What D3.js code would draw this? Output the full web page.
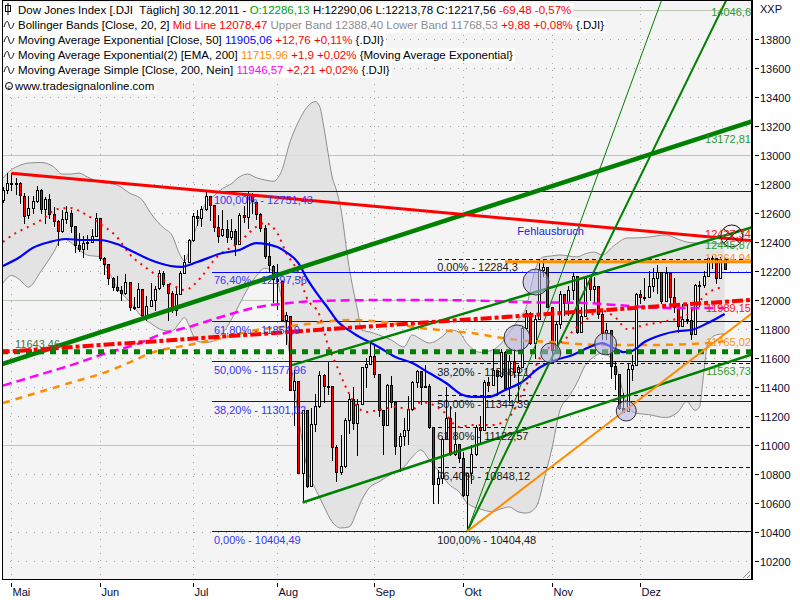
<!DOCTYPE html>
<html><head><meta charset="utf-8">
<script src="https://cdn.jsdelivr.net/npm/d3@7"></script>
<style>
body{margin:0;background:#fff;}
svg{display:block;font-family:"Liberation Sans",Arial,sans-serif;}
text{white-space:pre;}
</style></head><body>
<svg id="c" width="800" height="600"></svg>
<script>
// ---------------- DATA ----------------
// daily candles [open, high, low, close], 28.04.2011 .. 30.12.2011
const ohlc = [
[12690,12780,12675,12763],[12763,12876,12740,12810],[12810,12876,12757,12807],[12806,12840,12730,12807],[12807,12815,12670,12723],
[12722,12740,12530,12584],[12585,12720,12565,12638],[12638,12720,12600,12684],[12684,12790,12680,12760],[12759,12770,12600,12630],
[12630,12710,12530,12695],[12695,12730,12570,12595],[12595,12640,12510,12548],[12547,12550,12380,12479],[12479,12620,12470,12560],
[12560,12650,12530,12605],[12604,12620,12470,12512],[12511,12511,12330,12381],[12381,12460,12340,12356],[12355,12440,12300,12394],
[12394,12450,12350,12402],[12402,12490,12400,12441],[12440,12600,12440,12569],[12569,12570,12280,12290],[12290,12300,12180,12248],
[12248,12250,12110,12151],[12151,12160,12070,12089],[12089,12170,12060,12070],[12070,12100,12000,12048],[12049,12180,12040,12124],
[12124,12124,11930,11951],[11952,12020,11940,11952],[11953,12120,11950,12076],[12075,12076,11880,11897],[11896,12030,11862,11961],
[11962,12120,11960,12004],[12004,12100,11930,12080],[12081,12210,12080,12190],[12189,12200,12100,12109],[12108,12110,11860,12050],
[12050,12060,11920,11934],[11934,12100,11900,12043],[12043,12200,12040,12188],[12188,12310,12188,12261],[12261,12420,12260,12414],
[12414,12600,12410,12582],[12582,12620,12520,12569],[12569,12650,12510,12626],[12626,12753,12620,12719],[12719,12720,12550,12657],
[12655,12656,12480,12505],[12505,12590,12400,12446],[12447,12620,12440,12491],[12491,12550,12400,12437],[12437,12560,12420,12479],
[12479,12490,12310,12385],[12385,12600,12385,12587],[12587,12650,12540,12571],[12571,12751,12500,12724],[12724,12740,12600,12681],
[12680,12680,12560,12592],[12592,12600,12480,12501],[12500,12520,12290,12302],[12302,12400,12200,12240],[12239,12240,11990,12143],
[12143,12250,11940,12132],[12130,12130,11860,11866],[11866,11920,11700,11896],[11890,11890,11380,11383],[11383,11520,11140,11444],
[11444,11444,10809,10809],[10810,11244,10604,11239],[11239,11240,10711,10719],[10719,11254,10719,11143],[11143,11350,11100,11269],
[11269,11510,11260,11482],[11482,11490,11300,11405],[11405,11570,11350,11410],[11409,11410,10900,10990],[10990,11000,10750,10817],
[10817,11070,10800,10854],[10854,11190,10850,11176],[11176,11350,11080,11320],[11320,11400,11110,11149],[11150,11320,10930,11284],
[11284,11540,11284,11539],[11538,11600,11400,11559],[11559,11710,11560,11613],[11613,11700,11470,11493],[11492,11493,11200,11240],
[11240,11245,10940,11139],[11139,11420,11139,11414],[11414,11480,11260,11295],[11295,11296,10940,10992],[10991,11080,10820,11061],
[11061,11190,11000,11105],[11105,11340,11010,11246],[11247,11440,11240,11433],[11433,11520,11400,11509],[11509,11510,11280,11401],
[11401,11550,11400,11408],[11408,11420,11120,11124],[11124,11124,10600,10733],[10733,10830,10600,10771],[10771,11050,10740,11043],
[11044,11400,11040,11190],[11190,11270,10930,10938],[10939,11230,10930,11010],[11010,11010,10880,10913],[10912,10950,10650,10655],
[10655,10809,10404,10808],[10806,11000,10740,10939],[10939,11140,10930,11123],[11123,11200,11020,11103],[11104,11450,11104,11433],
[11433,11470,11370,11416],[11417,11660,11417,11518],[11517,11520,11360,11478],[11478,11660,11470,11644],[11644,11650,11380,11397],
[11397,11620,11300,11577],[11577,11660,11470,11504],[11504,11550,11300,11541],[11541,11820,11540,11808],[11808,11930,11800,11913],
[11913,11920,11700,11706],[11707,11900,11600,11869],[11869,12284,11869,12208],[12208,12280,12170,12231],[12230,12231,11950,11955],
[11955,11955,11570,11657],[11657,11850,11650,11836],[11836,12060,11810,12044],[12044,12044,11900,11983],[11983,12100,11900,12068],
[12068,12190,12010,12170],[12170,12170,11770,11780],[11780,11950,11780,11893],[11894,12170,11890,12153],[12153,12155,12000,12078],
[12078,12160,11980,12096],[12096,12100,11880,11905],[11905,11940,11730,11770],[11770,11840,11730,11796],[11796,11797,11460,11547],
[11547,11580,11390,11493],[11492,11493,11250,11257],[11257,11360,11231,11231],[11232,11560,11232,11523],[11523,11620,11450,11555],
[11555,12050,11555,12045],[12045,12070,11980,12020],[12020,12150,12000,12019],[12019,12200,12019,12097],[12097,12220,12060,12150],
[12150,12240,12050,12196],[12196,12197,11980,11997],[11997,12230,11997,12184],[12184,12185,11970,12021],[12021,12150,11920,11954],
[11954,11960,11780,11823],[11823,11970,11820,11868],[11868,11970,11840,11866],[11866,11940,11735,11766],[11766,12110,11766,12103],
[12103,12130,11960,12107],[12107,12200,12090,12169],[12169,12300,12169,12294],[12294,12302,12220,12291],[12291,12292,12120,12151],
[12151,12300,12150,12287],[12286,12290,12213,12217]
];

const monthLabels = ["Mai","Jun","Jul","Aug","Sep","Okt","Nov","Dez"];
const monthStartBar = [2,23,45,65,88,109,130,151];
const yTickValues = [10200,10400,10600,10800,11000,11200,11400,11600,11800,12000,12200,12400,12600,12800,13000,13200,13400,13600,13800];
const gridValues = [10200,10400,10600,10800,11000,11200,11400,11600,11800,12000,12200,12400,12600,12800,13000,13200,13400,13600,13800,14000];
const majorGrid = [11000,12000,13000,14000];

// Bollinger bands (20,2) read at sample bars
const bbBar   = [0,2,4,6,9,12,14,16,18,20,23,25,27,30,33,35,38,40,42,43,44,45,46,48,50,52,54,56,58,60,62,64,66,68,70,72,74,75,76,77,78,79,80,82,84,85,87,89,92,95,97,99,101,104,106,108,110,113,116,118,120,122,124,126,127,128,130,132,134,136,138,140,142,145,148,150,153,157,160,162,164,165,166,167,169,171];
const bbUpper = [12843,12900,12930,12946,12950,12920,12870,12870,12877,12850,12815,12805,12795,12739,12691,12600,12500,12450,12310,12270,12330,12435,12516,12667,12720,12770,12800,12850,12870,12845,12830,12820,12890,13090,13230,13330,13370,13340,13200,13020,12850,12760,12640,12230,11932,11794,11780,11760,11725,11677,11760,11730,11704,11746,11794,11780,11700,11640,11656,11700,11780,11860,11952,12200,12270,12298,12305,12312,12305,12298,12320,12332,12312,12381,12429,12429,12435,12450,12420,12401,12395,12394,12394,12394,12390,12388];
const bbLower = [12118,12170,12140,12090,12200,12330,12425,12400,12346,12311,12298,12200,12090,11990,11883,11840,11792,11787,11850,11881,11830,11760,11716,11707,11720,11770,11860,11970,12080,12165,12220,12200,12010,11610,11200,10848,10700,10640,10580,10520,10470,10440,10428,10435,10552,10620,10711,10745,10800,10849,10918,10966,10900,10790,10720,10680,10600,10560,10540,10560,10573,10540,10531,10560,10620,10738,10966,11242,11330,11428,11550,11608,11635,11560,11270,11220,11210,11190,11230,11300,11240,11260,11480,11700,11760,11768];
// Bollinger mid line (SMA 20)
const midBar = [0,3,6,9,13,16,19,23,27,30,34,37,41,43,47,50,56,60,62,65,67,70,72,75,77,79,81,84,86,89,93,97,99,104,108,111,116,120,122,125,128,133,136,139,141,145,148,152,156,162,167,170,171];
const midVal = [12401,12463,12505,12553,12629,12636,12601,12526,12436,12318,12222,12160,12091,12070,12160,12277,12401,12505,12532,12463,12332,12187,12015,11897,11691,11553,11415,11263,11228,11242,11263,11242,11297,11242,11125,11138,11138,11194,11297,11470,11635,11725,11815,11884,11932,11884,11800,11829,11849,11897,12049,12084,12078];
// EMA 50
const emaBar = [0,4,7,11,15,19,23,27,31,35,37,42,46,52,56,60,65,67,70,72,75,77,79,83,89,93,97,101,105,109,111,115,119,123,127,131,135,139,142,144,147,149,152,156,160,163,167,171];
const emaVal = [12236,12298,12360,12401,12422,12415,12415,12387,12332,12277,12256,12229,12263,12325,12346,12394,12367,12333,12256,12150,12022,11946,11863,11773,11677,11608,11566,11497,11428,11345,11332,11332,11380,11435,11532,11587,11622,11677,11704,11680,11642,11649,11711,11760,11787,11794,11842,11905];
// EMA 200 (of EMA)
const ema200Bar = [0,8,16,24,30,35,44,52,60,66,72,82,90,99,111,122,130,142,154,167,171];
const ema200Val = [11290,11360,11430,11500,11570,11635,11691,11739,11794,11815,11835,11863,11850,11808,11773,11725,11711,11691,11691,11704,11716];
// SMA 200
const sma200Bar = [0,8,16,24,32,37,44,52,60,66,72,85,100,115,122,138,146,154,162,171];
const sma200Val = [11410,11480,11550,11630,11700,11760,11815,11887,11950,11975,11990,12000,12001,11995,11987,11980,11965,11950,11945,11946];

// drawn tools: two anchor points [bar, value] and drawn bar range
const toolNames = ["greenLong","redDown","chanUp","chanLow","steepThin","steepMid","orangeUp","redDash"];
const toolA = [[0,11560],[2,12876],[68.5,11552],[71,10604.07],[110,10404.49],[110,10404.49],[110,10404.49],[0,11643.46]];
const toolB = [[171,13172.81],[171,12427.34],[171,12445.87],[171,11563.73],[134.4,12346],[171,14046.6],[171,11765.02],[171,11989.15]];
const toolFrom = [-1,2,68.5,71,110,110,110,-1];
const toolTo = [178,178,178,178,160,178,178,178];
const supportLevel = 11643.46;
const resistLevel = 12264.94, resistFrom = 119;

// Fibonacci retracements
const fib1From = 49.5;
const fib1Levels = [12751.43,12197.56,11854.90,11577.96,11301.02,10404.49];
const fib1Labels = ["100,00% - 12751,43","76,40% - 12197,56","61,80% - 11854,9","50,00% - 11577,96","38,20% - 11301,02","0,00% - 10404,49"];
const fib2From = 103;
const fib2Levels = [12284.3,11566.21,11344.39,11122.57,10848.12,10404.48];
const fib2Labels = ["0,00% - 12284,3","38,20% - 11566,21","50,00% - 11344,39","61,80% - 11122,57","76,40% - 10848,12","100,00% - 10404,48"];

// value labels at right edge
const valueLabelText = ["14046,6","13172,81","12427,34","12445,87","12264,94","11989,15","11765,02","11563,73"];
const valueLabelVal = [14046.6,13172.81,12427.34,12445.87,12264.94,11989.15,11765.02,11563.73];
const valueLabelKind = ["g","g","r","g","o","r","o","g"];

// marked spots
const markBar = [126.3,121.8,129.8,142.8,147.7];
const markVal = [12125,11739,11635,11698,11235];
const crossMark = [172.7,12443];
const noteText = "Fehlausbruch", noteBar = 122, noteVal = 12450;

const legendRows = [
 [["Dow Jones Index [.DJI  Täglich] 30.12.2011 - ","k"],["O:12286,13","up"],[" H:12290,06 L:12213,78 C:12217,56 ","k"],["-69,48 -0,57%","r"]],
 [["Bollinger Bands [Close, 20, 2] ","k"],["Mid Line 12078,47","r"],[" Upper Band 12388,40 Lower Band 11768,53","gr"],[" +9,88 +0,08%","r"],[" {.DJI}","k"]],
 [["Moving Average Exponential [Close, 50] ","k"],["11905,06","b"],[" +12,76 +0,11%","r"],[" {.DJI}","k"]],
 [["Moving Average Exponential(2) [EMA, 200] ","k"],["11715,96","o"],[" +1,9 +0,02%","r"],[" {Moving Average Exponential}","k"]],
 [["Moving Average Simple [Close, 200, Nein] ","k"],["11946,57","m"],[" +2,21 +0,02%","r"],[" {.DJI}","k"]],
 [["www.tradesignalonline.com","k"]]
];

// ---------------- DRAWING ----------------
const P = {l:2, t:0, r:752, b:580};
const x = d3.scaleLinear().domain([0,171]).range([3,724.6]);
const y = d3.scaleLinear().domain([10200,13800]).range([561,39.3]);
const pal = {k:"#000",up:"#00a000",r:"#ff0000",gr:"#8c8c8c",b:"#0000ff",o:"#ff8c00",m:"#ff00ff",g:"#2f8f2f"};

const svg = d3.select("#c");
svg.append("defs").append("clipPath").attr("id","pc").append("rect")
  .attr("x",P.l).attr("y",P.t).attr("width",P.r-P.l).attr("height",P.b-P.t);
svg.append("rect").attr("width",800).attr("height",600).attr("fill","#fff");
svg.append("rect").attr("x",P.l).attr("y",P.t).attr("width",P.r-P.l).attr("height",P.b-P.t).attr("fill","#f4f4f4");
const g = svg.append("g").attr("clip-path","url(#pc)");

// grid
const snap = v => Math.round(v)+0.5;
g.selectAll("line.hg").data(gridValues).join("line")
  .attr("x1",P.l).attr("x2",P.r).attr("y1",d=>snap(y(d))).attr("y2",d=>snap(y(d)))
  .attr("stroke",d=>majorGrid.includes(d)?"#b9c9b3":"#a8a8a8")
  .attr("stroke-dasharray",d=>majorGrid.includes(d)?null:"1,7");
g.selectAll("line.vg").data(monthStartBar).join("line")
  .attr("x1",d=>snap(x(d))).attr("x2",d=>snap(x(d))).attr("y1",P.t).attr("y2",P.b)
  .attr("stroke","#a8a8a8").attr("stroke-dasharray","1,6");

// Bollinger band
const bb = bbBar.map((b,i)=>({b,u:bbUpper[i],l:bbLower[i]}));
g.append("path").datum(bb).attr("fill","#e1e1e1").attr("fill-opacity",0.9)
  .attr("d",d3.area().curve(d3.curveMonotoneX).x(d=>x(d.b)).y0(d=>y(d.l)).y1(d=>y(d.u)));
["u","l"].forEach(k=>{
  g.append("path").datum(bb).attr("fill","none").attr("stroke","#8e8e8e").attr("stroke-width",1)
   .attr("d",d3.line().curve(d3.curveMonotoneX).x(d=>x(d.b)).y(d=>y(d[k])));
});

// fib lines
const fg = g.append("g").attr("shape-rendering","crispEdges");
fib1Levels.forEach((v,i)=>{
  fg.append("line").attr("x1",x(fib1From)).attr("x2",P.r).attr("y1",snap(y(v))).attr("y2",snap(y(v)))
   .attr("stroke","#0000ff").attr("stroke-width",1);
});
fib2Levels.forEach((v,i)=>{
  fg.append("line").attr("x1",x(fib2From)).attr("x2",P.r).attr("y1",snap(y(v))).attr("y2",snap(y(v)))
   .attr("stroke","#111").attr("stroke-width",1).attr("stroke-dasharray","4,3");
});

// candles
const cg = g.append("g").attr("shape-rendering","crispEdges");
cg.selectAll("line").data(ohlc).join("line")
  .attr("x1",(d,i)=>Math.round(x(i))+0.5).attr("x2",(d,i)=>Math.round(x(i))+0.5)
  .attr("y1",d=>Math.round(y(d[1]))).attr("y2",d=>Math.round(y(d[2]))+1)
  .attr("stroke","#000");
cg.selectAll("rect").data(ohlc).join("rect")
  .attr("x",(d,i)=>Math.round(x(i))-0.5).attr("width",2)
  .attr("y",d=>Math.round(y(Math.max(d[0],d[3])))+0.5)
  .attr("height",d=>Math.max(1,Math.round(y(Math.min(d[0],d[3])))-Math.round(y(Math.max(d[0],d[3])))))
  .attr("fill",d=>d[3]<d[0]?"#ff0000":"#ffffff").attr("stroke","#000").attr("stroke-width",1);

// moving averages
const mkLine = (bars,vals)=>d3.line().curve(d3.curveMonotoneX).x((d,i)=>x(bars[i])).y(d=>y(d))(vals);
g.append("path").attr("d",mkLine(sma200Bar,sma200Val)).attr("fill","none").attr("stroke","#ff00ff")
  .attr("stroke-width",2.5).attr("stroke-dasharray","9,5");
g.append("path").attr("d",mkLine(ema200Bar,ema200Val)).attr("fill","none").attr("stroke","#ff8c00")
  .attr("stroke-width",2.5).attr("stroke-dasharray","7,6");
g.append("path").attr("d",mkLine(midBar,midVal)).attr("fill","none").attr("stroke","#ff0000")
  .attr("stroke-width",2).attr("stroke-dasharray","2,5");
g.append("path").attr("d",mkLine(emaBar,emaVal)).attr("fill","none").attr("stroke","#0000ff")
  .attr("stroke-width",2.2);

// support / resistance
g.append("line").attr("x1",P.l).attr("x2",P.r).attr("y1",y(supportLevel)).attr("y2",y(supportLevel))
  .attr("stroke","#008000").attr("stroke-width",5).attr("stroke-dasharray","6,6");
g.append("line").attr("x1",x(resistFrom)).attr("x2",P.r).attr("y1",y(resistLevel)).attr("y2",y(resistLevel))
  .attr("stroke","#ff8c00").attr("stroke-width",3);

// trend tools
const toolStyle = {
  greenLong:{c:"#008000",w:4.5}, redDown:{c:"#ff0000",w:3}, chanUp:{c:"#008000",w:2.5},
  chanLow:{c:"#008000",w:2.5}, steepThin:{c:"#008000",w:1}, steepMid:{c:"#008000",w:2},
  orangeUp:{c:"#ff8c00",w:2}, redDash:{c:"#ff0000",w:4,dash:"11,3,4,3"}
};
toolNames.forEach((n,i)=>{
  const [b1,v1]=toolA[i],[b2,v2]=toolB[i];
  const val = b => v1 + (v2-v1)*(b-b1)/(b2-b1);
  const s = toolStyle[n];
  g.append("line").attr("x1",x(toolFrom[i])).attr("y1",y(val(toolFrom[i])))
   .attr("x2",x(toolTo[i])).attr("y2",y(val(toolTo[i])))
   .attr("stroke",s.c).attr("stroke-width",s.w).attr("stroke-dasharray",s.dash||null);
});

// marked ellipses
const markR = [13,13,10,11,10];
markBar.forEach((b,i)=>{
  g.append("circle").attr("cx",x(b)).attr("cy",y(markVal[i])).attr("r",markR[i])
   .attr("fill","#b4b4e6").attr("fill-opacity",0.55).attr("stroke","#333").attr("stroke-width",1);
});
{
  const cx=x(crossMark[0]), cy=y(crossMark[1]);
  g.append("circle").attr("cx",cx).attr("cy",cy).attr("r",11).attr("fill","none").attr("stroke","#111");
  g.append("path").attr("d",`M${cx-8},${cy-7}L${cx+8},${cy+7}M${cx-8},${cy+7}L${cx+8},${cy-7}`).attr("stroke","#111");
}

// fib labels
const tg = svg.append("g").attr("font-size","11px");
fib1Levels.forEach((v,i)=>{
  tg.append("text").attr("x",x(fib1From)+2).attr("y",y(v)+12.5).attr("fill","#3636f5").text(fib1Labels[i]);
});
fib2Levels.forEach((v,i)=>{
  tg.append("text").attr("x",x(fib2From)-0.5).attr("y",y(v)+12.5).attr("fill","#1a1a1a").text(fib2Labels[i]);
});
tg.append("text").attr("x",x(noteBar)-0.5).attr("y",y(noteVal)).attr("fill","#2020ee").text(noteText);
tg.append("text").attr("x",15).attr("y",y(supportLevel)-4).attr("fill","#3d7a3d").text("11643,46");

// value labels at right
const vOff = [12.4,12.5,0,13,0,10,12,12];
valueLabelText.forEach((t,i)=>{
  tg.append("text").attr("x",P.r-1).attr("y",y(valueLabelVal[i])+vOff[i]).attr("text-anchor","end")
   .attr("fill",valueLabelKind[i]==="g"?"#2f9a2f":valueLabelKind[i]==="r"?"#ff1010":"#ff9020").text(t);
});

// frame
svg.append("rect").attr("x",P.l+0.5).attr("y",P.t+0.5).attr("width",P.r-P.l-1).attr("height",P.b-P.t-1)
  .attr("fill","none").attr("stroke","#000").attr("stroke-width",1);
svg.append("line").attr("x1",P.r+0.5).attr("x2",P.r+0.5).attr("y1",0).attr("y2",P.b).attr("stroke","#000");
svg.append("path").attr("d",`M${P.r-2},${P.b-9}L${P.r-9},${P.b-2}M${P.r-2},${P.b-5}L${P.r-5},${P.b-2}`).attr("stroke","#888");

// right axis
const ax = svg.append("g").attr("font-size","11px");
yTickValues.forEach(v=>{
  const yy = snap(y(v));
  ax.append("line").attr("x1",P.r+3).attr("x2",P.r+7).attr("y1",yy).attr("y2",yy).attr("stroke","#000");
  ax.append("text").attr("x",P.r+8).attr("y",yy+4).attr("fill","#0a0a30").text(v);
});
ax.append("text").attr("x",P.r+8).attr("y",13).attr("fill","#0a0a30").text("XXP");

// bottom axis
monthStartBar.forEach((b,i)=>{
  const xx = snap(x(b));
  ax.append("line").attr("x1",xx).attr("x2",xx).attr("y1",P.b+3).attr("y2",P.b+7).attr("stroke","#000");
  ax.append("text").attr("x",xx+1).attr("y",P.b+16).attr("fill","#0a0a30").text(monthLabels[i]);
});

// legend
const lg = svg.append("g").attr("font-size","11.5px");
const rowBase = [14,29,44,59,74,90];
legendRows.forEach((row,ri)=>{
  const bg = lg.append("rect").attr("x",3).attr("y",rowBase[ri]-11).attr("height",15).attr("fill","#fff");
  const tx = lg.append("text").attr("x",ri===5?15:18).attr("y",rowBase[ri]);
  row.forEach(([t,c])=>tx.append("tspan").attr("fill",pal[c]).text(t));
  const w = tx.node().getComputedTextLength();
  bg.attr("width",(ri===5?15:18)+w-1);
  if(ri===0){
    lg.append("rect").attr("x",5.5).attr("y",rowBase[ri]-8.5).attr("width",5).attr("height",6).attr("fill","#fff").attr("stroke","#000");
    lg.append("line").attr("x1",8).attr("x2",8).attr("y1",rowBase[ri]-11).attr("y2",rowBase[ri]+1).attr("stroke","#000");
  } else if(ri<5){
    const yb=rowBase[ri]-4;
    lg.append("path").attr("d",`M4,${yb+2}C6,${yb-5} 8,${yb-5} 9,${yb}S12,${yb+5} 14,${yb-2}`)
      .attr("fill","none").attr("stroke","#000").attr("stroke-width",1);
  } else {
    lg.append("circle").attr("cx",9).attr("cy",rowBase[ri]-4).attr("r",3.5).attr("fill","none").attr("stroke","#000");
    lg.append("text").attr("x",9).attr("y",rowBase[ri]-1.5).attr("font-size","6px").attr("text-anchor","middle").text("c");
  }
});
</script>
</body></html>
